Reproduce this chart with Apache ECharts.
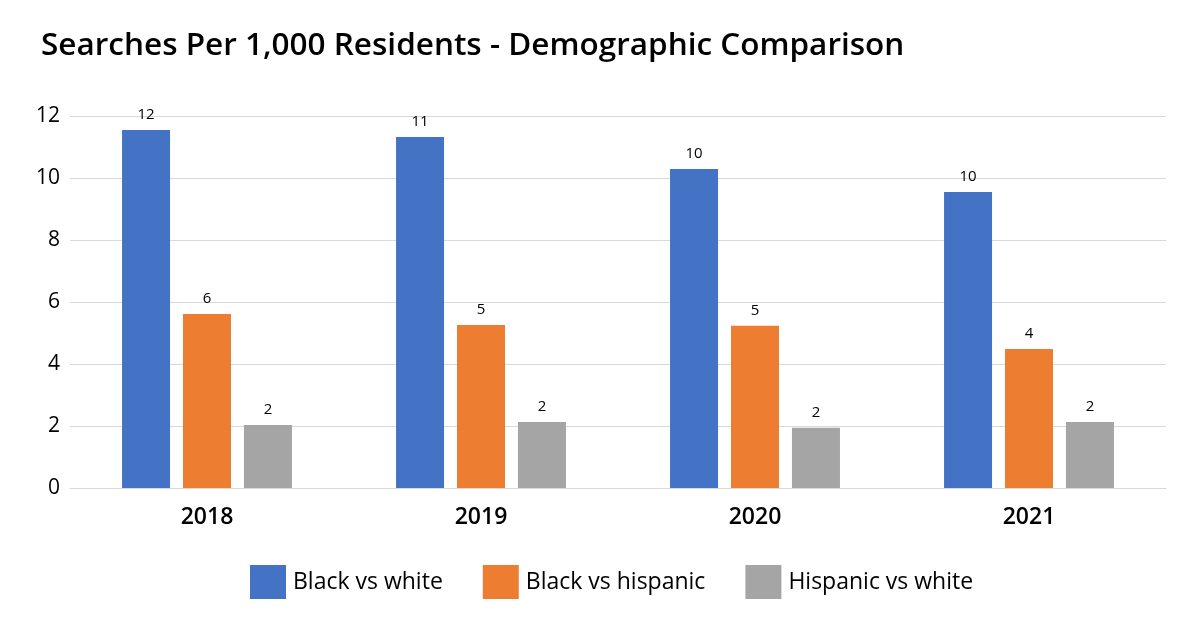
<!DOCTYPE html>
<html><head><meta charset="utf-8">
<script src="https://cdn.jsdelivr.net/npm/echarts@6/dist/echarts.min.js"></script>
<style>html,body{margin:0;padding:0;background:#fff}#c{width:1200px;height:640px}</style>
</head><body><div id="c"></div>
<script>
const years = ['2018', '2019', '2020', '2021'];
const blackVsWhite = [11.55, 11.32, 10.29, 9.55];
const blackVsHispanic = [5.61, 5.26, 5.23, 4.48];
const hispanicVsWhite = [2.03, 2.13, 1.94, 2.13];
const yTicks = [0, 2, 4, 6, 8, 10, 12];

const FONT = 'Open Sans';
const chart = echarts.init(document.getElementById('c'));
function s(name, data, color) {
  return {
    name, type: 'bar', data, barWidth: 48,
    itemStyle: { color },
    label: { show: true, position: 'top', distance: 8, fontFamily: FONT, fontSize: 15, color: '#000',
      formatter: p => Math.round(p.value) }
  };
}
chart.setOption({
  animation: false,
  title: { text: 'Searches Per 1,000 Residents - Demographic Comparison', left: 36, top: 25,
    textStyle: { fontFamily: FONT, fontSize: 31.5, fontWeight: 600, color: '#000' } },
  grid: { left: 70, right: 34, top: 116, bottom: 152 },
  legend: { bottom: 36, left: 245, icon: 'rect', itemWidth: 36, itemHeight: 34, itemGap: 40,
    textStyle: { fontFamily: FONT, fontSize: 23, color: '#000', padding: [0,0,0,2] } },
  xAxis: { type: 'category', data: years,
    axisLine: { lineStyle: { color: '#d9d9d9' } }, axisTick: { show: false },
    axisLabel: { fontFamily: FONT, fontSize: 23, fontWeight: 600, color: '#000', margin: 18 } },
  yAxis: { type: 'value', min: 0, max: 12, interval: 2,
    axisLabel: { fontFamily: FONT, fontSize: 21, color: '#000', margin: 10,
      formatter: v => yTicks.includes(v) ? String(v) : '' },
    splitLine: { lineStyle: { color: '#d9d9d9' } } },
  series: [
    Object.assign(s('Black vs white', blackVsWhite, '#4472c4'), { barGap: '27%' }),
    s('Black vs hispanic', blackVsHispanic, '#ed7d31'),
    s('Hispanic vs white', hispanicVsWhite, '#a5a5a5')
  ]
});
</script></body></html>
